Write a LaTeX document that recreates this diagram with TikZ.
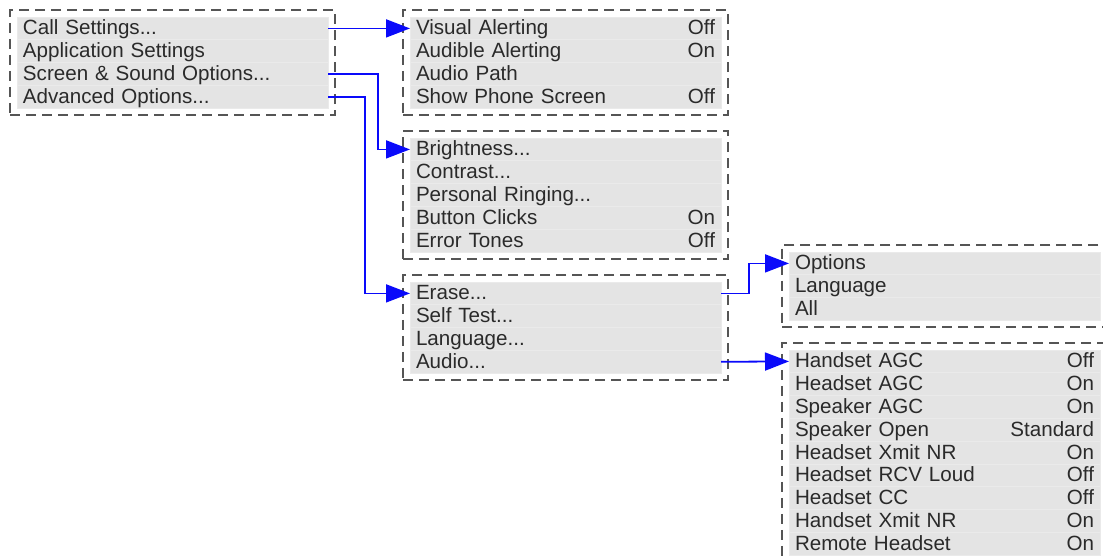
\documentclass[tikz,border=0pt]{standalone}
\usepackage{fontspec}
\setmainfont{Liberation Sans}
\usetikzlibrary{positioning,arrows.meta,fit,backgrounds}
\definecolor{azul}{HTML}{0A0AFA}
\definecolor{gris}{HTML}{555555}
\definecolor{grisclaro}{HTML}{E4E4E4}
\definecolor{grisfino}{HTML}{EAEAEA}
\definecolor{texto}{HTML}{2A2A2A}

\begin{document}
\begin{tikzpicture}[font=\fontsize{10.3}{12}\selectfont, >={Triangle[length=12pt,width=9pt]},
      r/.style={fill=grisclaro, draw=grisfino, line width=0.4pt, outer sep=0pt, inner xsep=3pt,
                inner ysep=0pt, text width=149.5pt, align=left, minimum height=11.4pt,
                text height=8.1pt, text depth=1.7pt, text=texto},
      menu/.style={draw=gris, dash pattern=on 5pt off 3pt, line width=1pt, inner sep=3.5pt},
      link/.style={->, draw=azul, line width=0.9pt}]
    \useasboundingbox (0,0) rectangle (551.5pt,-279.5pt);
    % main menu
    \node[r, anchor=north west] (call) at (8.5pt,-8.5pt) {Call Settings...};
    \node[r, below=0pt of call] (app) {Application Settings};
    \node[r, below=0pt of app] (screen) {Screen \& Sound Options...};
    \node[r, below=0pt of screen] (adv) {Advanced Options...};
    % call settings
    \node[r, anchor=north west] (visual) at (205pt,-8.5pt) {Visual Alerting\hfill Off};
    \node[r, below=0pt of visual] (audible) {Audible Alerting\hfill On};
    \node[r, below=0pt of audible] (path) {Audio Path};
    \node[r, below=0pt of path] (show) {Show Phone Screen\hfill Off};
    % screen & sound
    \node[r, anchor=north west] (bright) at (205pt,-69pt) {Brightness...};
    \node[r, below=0pt of bright] (contrast) {Contrast...};
    \node[r, below=0pt of contrast] (ring) {Personal Ringing...};
    \node[r, below=0pt of ring] (clicks) {Button Clicks\hfill On};
    \node[r, below=0pt of clicks] (tones) {Error Tones\hfill Off};
    % advanced
    \node[r, anchor=north west] (erase) at (205pt,-141pt) {Erase...};
    \node[r, below=0pt of erase] (selftest) {Self Test...};
    \node[r, below=0pt of selftest] (lang) {Language...};
    \node[r, below=0pt of lang] (audio) {Audio...};
    % erase
    \node[r, anchor=north west] (opt) at (394.5pt,-126pt) {Options};
    \node[r, below=0pt of opt] (elang) {Language};
    \node[r, below=0pt of elang] (all) {All};
    % audio
    \node[r, anchor=north west] (hagc) at (394.5pt,-175pt) {Handset AGC\hfill Off};
    \node[r, below=0pt of hagc] (hsagc) {Headset AGC\hfill On};
    \node[r, below=0pt of hsagc] (spagc) {Speaker AGC\hfill On};
    \node[r, below=0pt of spagc] (spopen) {Speaker Open\hfill Standard};
    \node[r, below=0pt of spopen] (hsxmit) {Headset Xmit NR\hfill On};
    \node[r, below=0pt of hsxmit] (hsrcv) {Headset RCV Loud\hfill Off};
    \node[r, below=0pt of hsrcv] (hscc) {Headset CC\hfill Off};
    \node[r, below=0pt of hscc] (hxmit) {Handset Xmit NR\hfill On};
    \node[r, below=0pt of hxmit] (remote) {Remote Headset\hfill On};
    \begin{scope}[on background layer]
      \node[menu, fit=(call)(adv)] (mmain) {};
      \node[menu, fit=(visual)(show)] (mcall) {};
      \node[menu, fit=(bright)(tones)] (msound) {};
      \node[menu, fit=(erase)(audio)] (madv) {};
      \node[menu, fit=(opt)(all)] (merase) {};
      \node[menu, fit=(hagc)(remote)] (maudio) {};
    \end{scope}
    \draw[link] (call.east) -- (visual.west);
    \draw[link] (screen.east) -- ++(25pt,0) |- (bright.west);
    \draw[link] (adv.east) -- ++(18.5pt,0) |- (erase.west);
    \draw[link] (erase.east) -- ++(14pt,0) |- (opt.west);
    \draw[link] (audio.east) -- (hagc.west);
  \end{tikzpicture}
\end{document}
